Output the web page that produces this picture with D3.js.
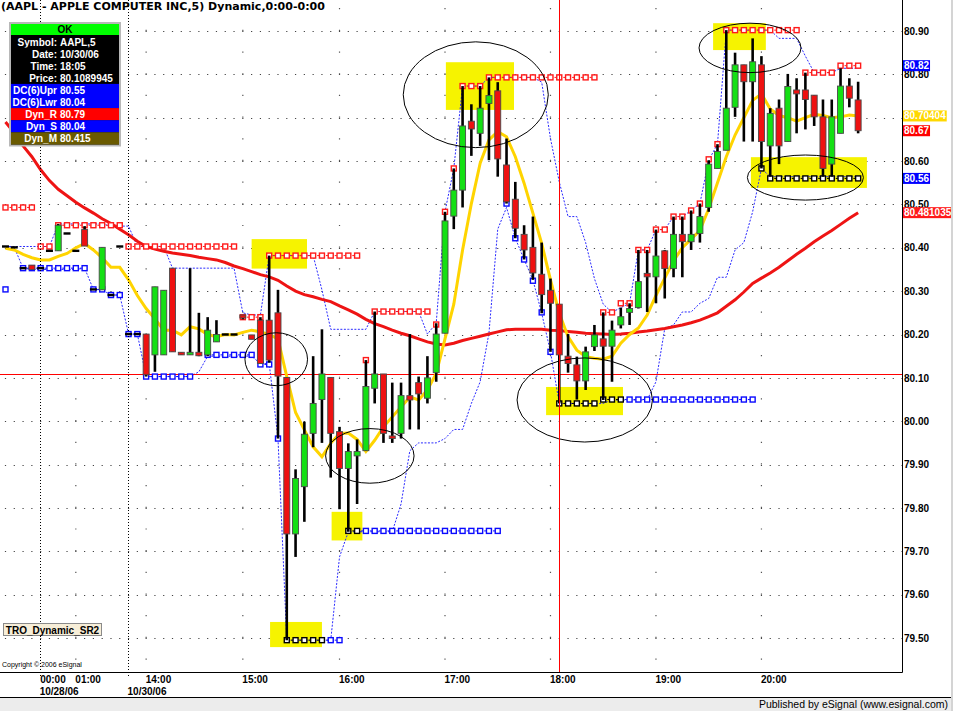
<!DOCTYPE html>
<meta charset="utf-8">
<style>
body { margin: 0; background: #fff; }
svg { display: block; }
text { font-family: "Liberation Sans", Arial, sans-serif; }
.axis text { font: bold 10px "Liberation Sans", Arial, sans-serif; fill: #000; }
</style>
<svg width="953" height="711"></svg>
<script src="https://d3js.org/d3.v7.min.js"></script>
<script>

// 5-minute bars, 10/28 evening + 10/30 session
var opens = [80.403,80.401,80.353,80.360,80.353,80.393,80.393,80.433,80.393,80.442,
  80.304,80.303,80.291,80.403,80.201,80.201,80.201,80.153,80.153,80.353,
  80.159,80.153,80.159,80.153,80.183,80.200,80.200,80.245,80.199,80.233,
  80.233,80.250,80.101,79.740,79.849,79.972,80.050,80.101,79.976,79.891,
  79.920,79.932,80.076,80.109,79.966,79.972,80.059,80.089,80.053,80.112,
  80.203,80.473,80.533,80.692,80.664,80.733,80.762,80.591,80.512,80.431,
  80.401,80.339,80.302,80.270,80.150,80.130,80.093,80.172,80.190,80.173,
  80.222,80.251,80.262,80.341,80.333,80.393,80.352,80.431,80.414,80.433,
  80.493,80.583,80.625,80.724,80.822,80.783,80.822,80.635,80.722,80.645,
  80.764,80.764,80.752,80.702,80.593,80.664,80.773,80.741];
var highs = [80.403,80.401,80.353,80.360,80.353,80.393,80.455,80.433,80.393,80.450,
  80.304,80.401,80.291,80.403,80.201,80.201,80.201,80.310,80.302,80.353,
  80.159,80.353,80.250,80.240,80.233,80.200,80.200,80.245,80.199,80.240,
  80.382,80.303,80.101,79.889,79.999,80.150,80.212,80.101,79.987,79.949,
  79.958,80.141,80.253,80.109,80.089,80.089,80.201,80.103,80.150,80.226,
  80.483,80.583,80.773,80.731,80.773,80.793,80.782,80.652,80.552,80.452,
  80.472,80.412,80.329,80.270,80.201,80.149,80.172,80.222,80.251,80.232,
  80.262,80.272,80.395,80.395,80.442,80.395,80.472,80.472,80.486,80.502,
  80.602,80.639,80.902,80.850,80.822,80.883,80.842,80.722,80.742,80.801,
  80.791,80.804,80.752,80.742,80.742,80.814,80.791,80.783];
var lows = [80.403,80.401,80.353,80.350,80.353,80.393,80.393,80.433,80.393,80.404,
  80.304,80.303,80.291,80.403,80.201,80.201,80.103,80.114,80.153,80.160,
  80.153,80.153,80.150,80.150,80.183,80.200,80.200,80.235,80.189,80.133,
  80.135,79.960,79.495,79.687,79.768,79.940,79.950,79.870,79.797,79.745,
  79.809,79.932,80.041,79.950,79.950,79.960,79.981,79.981,80.041,80.091,
  80.203,80.443,80.493,80.612,80.635,80.602,80.564,80.502,80.422,80.373,
  80.326,80.249,80.160,80.041,80.112,80.050,80.072,80.162,80.049,80.091,
  80.214,80.222,80.260,80.252,80.272,80.283,80.332,80.332,80.395,80.412,
  80.483,80.583,80.625,80.702,80.645,80.645,80.583,80.564,80.593,80.645,
  80.664,80.673,80.681,80.564,80.564,80.664,80.724,80.664];
var closes = [80.403,80.401,80.353,80.350,80.353,80.393,80.452,80.433,80.393,80.404,
  80.304,80.401,80.291,80.403,80.201,80.201,80.107,80.310,80.302,80.160,
  80.153,80.159,80.151,80.210,80.200,80.200,80.200,80.238,80.189,80.133,
  80.141,80.104,79.740,79.868,79.970,80.041,80.109,79.972,79.891,79.930,
  79.930,80.080,80.109,79.972,79.960,80.059,80.049,80.063,80.100,80.201,
  80.462,80.533,80.681,80.674,80.722,80.751,80.605,80.506,80.445,80.395,
  80.342,80.292,80.272,80.153,80.133,80.093,80.160,80.199,80.173,80.210,
  80.241,80.260,80.322,80.333,80.381,80.352,80.431,80.414,80.431,80.472,
  80.593,80.622,80.722,80.822,80.783,80.829,80.645,80.710,80.635,80.772,
  80.755,80.742,80.702,80.583,80.702,80.773,80.745,80.67];

// yellow fast average
var fastAvg = [80.399,80.395,80.385,80.377,80.372,80.372,80.380,80.387,80.400,80.410,
  80.395,80.377,80.355,80.355,80.326,80.290,80.260,80.236,80.210,80.210,
  80.199,80.218,80.213,80.200,80.195,80.200,80.199,80.205,80.210,80.206,
  80.200,80.190,80.103,80.020,79.980,79.941,79.918,79.949,79.972,79.973,
  79.958,79.930,79.956,79.987,80.010,80.033,80.056,80.049,80.072,80.110,
  80.190,80.270,80.395,80.502,80.595,80.649,80.668,80.656,80.610,80.549,
  80.480,80.410,80.326,80.249,80.195,80.164,80.149,80.145,80.143,80.150,
  80.180,80.200,80.215,80.245,80.290,80.330,80.370,80.400,80.420,80.440,
  80.490,80.550,80.610,80.660,80.700,80.740,80.755,80.720,80.705,80.700,
  80.692,80.700,80.708,80.705,80.700,80.702,80.706,80.70404];
// red slow average
var slowAvg = [80.690,80.665,80.635,80.610,80.580,80.555,80.535,80.520,80.505,80.492,
  80.480,80.467,80.456,80.443,80.430,80.415,80.403,80.397,80.392,80.388,
  80.385,80.382,80.378,80.375,80.372,80.366,80.358,80.352,80.345,80.338,
  80.333,80.325,80.312,80.300,80.292,80.287,80.281,80.276,80.266,80.257,
  80.247,80.235,80.225,80.218,80.210,80.203,80.197,80.190,80.183,80.178,
  80.176,80.180,80.186,80.191,80.196,80.201,80.206,80.211,80.212,80.212,
  80.212,80.212,80.210,80.209,80.207,80.205,80.203,80.202,80.201,80.200,
  80.201,80.203,80.206,80.208,80.211,80.214,80.218,80.222,80.227,80.233,
  80.241,80.250,80.265,80.280,80.298,80.318,80.330,80.342,80.355,80.370,
  80.385,80.399,80.414,80.427,80.440,80.454,80.468,80.481035];

// dynamic resistance / support levels
var dynR = [80.493,80.493,80.493,80.493,80.403,80.403,80.452,80.452,80.452,80.452,
  80.452,80.452,80.452,80.452,80.403,80.403,80.403,80.403,80.403,80.403,
  80.403,80.403,80.403,80.403,80.403,80.403,80.403,80.240,80.240,80.240,
  80.382,80.382,80.382,80.382,80.382,80.382,80.382,80.382,80.382,80.382,
  80.382,80.141,80.253,80.253,80.253,80.253,80.253,80.253,80.253,80.223,
  80.483,80.583,80.773,80.773,80.773,80.793,80.793,80.793,80.793,80.793,
  80.793,80.793,80.793,80.793,80.793,80.793,80.793,80.793,80.251,80.251,
  80.272,80.272,80.395,80.395,80.442,80.442,80.472,80.472,80.486,80.502,
  80.604,80.639,80.902,80.902,80.902,80.902,80.902,80.902,80.902,80.902,
  80.902,80.804,80.804,80.804,80.804,80.82,80.82,80.82];
var dynS = [80.304,null,80.353,80.353,80.353,80.353,80.353,80.353,80.353,80.353,
  80.304,80.304,80.291,80.291,80.201,80.201,80.103,80.103,80.103,80.103,
  80.103,80.103,null,80.153,80.153,80.153,80.153,80.153,80.153,80.131,
  80.131,79.960,79.495,79.495,79.495,79.495,79.495,79.495,79.495,79.747,
  79.747,79.747,79.747,79.747,79.747,79.747,79.747,79.747,79.747,79.747,
  79.747,79.747,79.747,79.747,79.747,79.747,79.747,80.502,80.422,80.373,
  80.324,80.251,80.160,80.041,80.041,80.041,80.041,80.041,80.050,80.050,
  80.050,80.050,80.050,80.050,80.050,80.050,80.050,80.050,80.050,80.050,
  80.050,80.050,80.050,80.050,80.050,80.050,80.583,80.56,80.56,80.56,
  80.56,80.56,80.56,80.56,80.56,80.56,80.56,80.56];

var priceTicks = [79.5,79.6,79.7,79.8,79.9,80.0,80.1,80.2,80.3,80.4,80.5,80.6,80.7,80.8,80.9];
var timeTickBars = [4, 8, 16, 27, 38, 50, 62, 74, 86];
var timeTickLabels = ["00:00","01:00","14:00","15:00","16:00","17:00","18:00","19:00","20:00"];
var dateBars = [4, 14];
var dateLabels = ["10/28/06", "10/30/06"];

var cursorBar = 63, cursorPrice = 80.1089945;
var infoLabels = ["Symbol:", "Date:", "Time:", "Price:", "DC(6)Upr", "DC(6)Lwr", "Dyn_R", "Dyn_S", "Dyn_M"];
var infoValues = ["AAPL,5", "10/30/06", "18:05", "80.1089945", "80.55", "80.04", "80.79", "80.04", "80.415"];

// marked zones: bar from, bar to, price top, price bottom
var zoneFrom = [28.0, 30.1, 37.1, 50.1, 61.5, 80.5, 84.8];
var zoneTo = [34.3, 36.0, 40.6, 57.85, 70.25, 86.5, 98.0];
var zoneTop = [80.420, 79.537, 79.791, 80.828, 80.079, 80.918, 80.609];
var zoneBottom = [80.352, 79.479, 79.725, 80.718, 80.014, 80.856, 80.538];

// circled spots: centre bar, centre price, radius in bars, radius in price
var ringBar = [30.8, 41.45, 53.5, 65.9, 84.7, 91.0];
var ringPrice = [80.143, 79.920, 80.753, 80.049, 80.861, 80.562];
var ringBars = [3.56, 5.03, 8.25, 7.7, 5.8, 6.6];
var ringSpan = [0.061, 0.063, 0.122, 0.097, 0.057, 0.052];

var svg = d3.select("svg"),
    width = +svg.attr("width"),
    height = +svg.attr("height");

var plotRight = 902, plotBottom = 672;

var x = d3.scaleLinear().domain([0, 97]).range([5.5, 5.5 + 97 * 8.79]),
    y = d3.scaleLinear().domain([79.5, 80.9]).range([638, 31]);

var bars = opens.map(function(o, i) {
  return {i: i, o: o, h: highs[i], l: lows[i], c: closes[i]};
});

// Donchian channel, 6 bars
var dcUpr = highs.map(function(h, i) { return d3.max(highs.slice(Math.max(0, i - 5), i + 1)); });
var dcLwr = lows.map(function(l, i) { return d3.min(lows.slice(Math.max(0, i - 5), i + 1)); });

svg.append("defs").append("clipPath").attr("id", "plot")
  .append("rect").attr("x", 0).attr("y", 0).attr("width", plotRight).attr("height", plotBottom);

var plot = svg.append("g").attr("clip-path", "url(#plot)");

// dotted grid
plot.append("g").selectAll("line")
  .data(priceTicks)
  .enter().append("line")
    .attr("x1", x(0) - 0.6).attr("x2", plotRight)
    .attr("y1", function(d) { return Math.round(y(d)) + 0.5; })
    .attr("y2", function(d) { return Math.round(y(d)) + 0.5; })
    .attr("stroke", "#444").attr("stroke-width", 1.2)
    .attr("stroke-dasharray", "1.2,7.59");

plot.append("g").selectAll("line")
  .data(timeTickBars.filter(function(b) { return dateBars.indexOf(b) < 0; }))
  .enter().append("line")
    .attr("x1", function(d) { return x(d); }).attr("x2", function(d) { return x(d); })
    .attr("y1", y(79.45)).attr("y2", 0)
    .attr("stroke", "#555").attr("stroke-width", 1.2)
    .attr("stroke-dasharray", "1.2," + (y(80.0) - y(80.05) - 1.2));

svg.append("g").selectAll("line")
  .data(dateBars)
  .enter().append("line")
    .attr("x1", function(d) { return Math.round(x(d)) - 0.5; })
    .attr("x2", function(d) { return Math.round(x(d)) - 0.5; })
    .attr("y1", 0).attr("y2", 676)
    .attr("stroke", "#000").attr("stroke-dasharray", "1,2");

// yellow marked zones
plot.append("g").selectAll("rect")
  .data(zoneFrom)
  .enter().append("rect")
    .attr("x", function(d) { return x(d); })
    .attr("y", function(d, i) { return y(zoneTop[i]); })
    .attr("width", function(d, i) { return x(zoneTo[i]) - x(d); })
    .attr("height", function(d, i) { return y(zoneBottom[i]) - y(zoneTop[i]); })
    .attr("fill", "#f6f300");

function inZone(i, v) {
  for (var k = 0; k < zoneFrom.length; k++) {
    if (x(i) >= x(zoneFrom[k]) && x(i) <= x(zoneTo[k]) && v <= zoneTop[k] && v >= zoneBottom[k]) return true;
  }
  return false;
}

var line = d3.line()
    .x(function(d, i) { return x(i); })
    .y(function(d) { return y(d); });

// channel
[dcUpr, dcLwr].forEach(function(s) {
  plot.append("path").datum(s)
    .attr("fill", "none").attr("stroke", "#2a2aff").attr("stroke-width", 1)
    .attr("stroke-dasharray", "2,1.5")
    .attr("d", line);
});

// horizontal cursor
plot.append("line")
  .attr("x1", 0).attr("x2", plotRight)
  .attr("y1", Math.round(y(cursorPrice)) + 0.5).attr("y2", Math.round(y(cursorPrice)) + 0.5)
  .attr("stroke", "#ff0000").attr("stroke-width", 1);

plot.append("path").datum(slowAvg)
  .attr("fill", "none").attr("stroke", "#ee1414").attr("stroke-width", 3)
  .attr("d", line);

plot.append("path").datum(fastAvg)
  .attr("fill", "none").attr("stroke", "#ffd400").attr("stroke-width", 3)
  .attr("d", line);

// level squares
function levels(values, color, useZones) {
  var g = plot.append("g");
  var segs = [];
  values.forEach(function(v, i) {
    if (i > 0 && v != null && values[i - 1] === v) segs.push(i);
  });
  g.selectAll("line")
    .data(segs)
    .enter().append("line")
      .attr("x1", function(i) { return x(i - 1); }).attr("x2", function(i) { return x(i); })
      .attr("y1", function(i) { return y(values[i]); }).attr("y2", function(i) { return y(values[i]); })
      .attr("stroke", function(i) { return useZones && inZone(i, values[i]) ? "#000" : color; })
      .attr("stroke-width", 1).attr("stroke-dasharray", "2,2");
  g.selectAll("rect")
    .data(values.map(function(v, i) { return {i: i, v: v}; }).filter(function(d) { return d.v != null; }))
    .enter().append("rect")
      .attr("x", function(d) { return x(d.i) - 2.5; })
      .attr("y", function(d) { return y(d.v) - 2.5; })
      .attr("width", 5).attr("height", 5)
      .attr("fill", "#fff")
      .attr("stroke", function(d) { return useZones && inZone(d.i, d.v) ? "#000" : color; })
      .attr("stroke-width", 1.4);
}
levels(dynR, "#ff1a1a", false);
levels(dynS, "#0a0aff", true);

// candles
var candle = plot.append("g").selectAll("g")
  .data(bars)
  .enter().append("g");

candle.filter(function(d) { return d.h > d.l; }).append("line")
  .attr("x1", function(d) { return x(d.i); }).attr("x2", function(d) { return x(d.i); })
  .attr("y1", function(d) { return y(d.h); }).attr("y2", function(d) { return y(d.l); })
  .attr("stroke", "#000").attr("stroke-width", 2.6);

candle.append("rect")
  .attr("x", function(d) { return x(d.i) - (d.o === d.c ? 3.5 : 3); })
  .attr("y", function(d) { return d.o === d.c ? y(d.c) - 1.2 : y(Math.max(d.o, d.c)); })
  .attr("width", function(d) { return d.o === d.c ? 7 : 6; })
  .attr("height", function(d) { return d.o === d.c ? 2.4 : Math.max(2, Math.abs(y(d.o) - y(d.c))); })
  .attr("fill", function(d) { return d.o === d.c ? "#000" : (d.c > d.o ? "#14e014" : "#ee1111"); })
  .attr("stroke", function(d) { return d.o === d.c ? "none" : "#4a4a4a"; })
  .attr("stroke-width", 0.9);

// rings
plot.append("g").selectAll("ellipse")
  .data(ringBar)
  .enter().append("ellipse")
    .attr("cx", function(d) { return x(d); })
    .attr("cy", function(d, i) { return y(ringPrice[i]); })
    .attr("rx", function(d, i) { return x(d + ringBars[i]) - x(d); })
    .attr("ry", function(d, i) { return y(ringPrice[i] - ringSpan[i]) - y(ringPrice[i]); })
    .attr("fill", "none").attr("stroke", "#000").attr("stroke-width", 1);

// vertical cursor
svg.append("line")
  .attr("x1", Math.round(x(cursorBar)) + 0.5).attr("x2", Math.round(x(cursorBar)) + 0.5)
  .attr("y1", 0).attr("y2", plotBottom)
  .attr("stroke", "#ff0000").attr("stroke-width", 1);

// frame
svg.append("line").attr("x1", plotRight + 0.5).attr("x2", plotRight + 0.5).attr("y1", 0).attr("y2", plotBottom + 0.5)
  .attr("stroke", "#000");
svg.append("line").attr("x1", 0).attr("x2", plotRight + 0.5).attr("y1", plotBottom + 0.5).attr("y2", plotBottom + 0.5)
  .attr("stroke", "#000");

// last value markers on the price axis
var marks = [
  {v: dynR[dynR.length - 1], t: d3.format(".2f")(dynR[dynR.length - 1]), bg: "#0000ff"},
  {v: fastAvg[fastAvg.length - 1], t: String(fastAvg[fastAvg.length - 1]), bg: "#ffd800"},
  {v: closes[closes.length - 1], t: d3.format(".2f")(closes[closes.length - 1]), bg: "#ff0000"},
  {v: dynS[dynS.length - 1], t: d3.format(".2f")(dynS[dynS.length - 1]), bg: "#0000ff"},
  {v: slowAvg[slowAvg.length - 1], t: String(slowAvg[slowAvg.length - 1]), bg: "#ff1a1a"}
];

// price axis (a label fully under a marker is not drawn)
var yAxis = svg.append("g").attr("class", "axis")
  .attr("transform", "translate(" + plotRight + ",0)")
  .call(d3.axisRight(y)
    .tickValues(priceTicks.filter(function(p) {
      return !marks.some(function(m) { return Math.abs(y(m.v) - y(p)) < 3; });
    }))
    .tickFormat(d3.format(".2f")).tickSize(0).tickPadding(2));
yAxis.select(".domain").remove();

// time axis
var xAxis = svg.append("g").attr("class", "axis")
  .attr("transform", "translate(0," + plotBottom + ")")
  .call(d3.axisBottom(x).tickValues(timeTickBars)
    .tickFormat(function(d, i) { return timeTickLabels[i]; }).tickSize(0));
xAxis.select(".domain").remove();
xAxis.selectAll("text").attr("text-anchor", "start").attr("x", -1).attr("y", 11).attr("dy", 0);

svg.append("g").attr("class", "axis").selectAll("text")
  .data(dateBars)
  .enter().append("text")
    .attr("x", function(d) { return x(d) - 1; })
    .attr("y", 695)
    .text(function(d, i) { return dateLabels[i]; });

var mark = svg.append("g").selectAll("g")
  .data(marks)
  .enter().append("g")
    .attr("transform", function(d) { return "translate(" + (plotRight + 1) + "," + y(d.v) + ")"; });
mark.append("rect").attr("class", "bg");
mark.append("text")
  .attr("x", 1).attr("dy", "0.35em")
  .style("font", "bold 10px 'Liberation Sans', Arial, sans-serif")
  .attr("fill", "#fff")
  .text(function(d) { return d.t; });
mark.select("rect")
  .attr("x", 0).attr("y", -5.5).attr("height", 11)
  .attr("width", function() { return this.parentNode.querySelector("text").getComputedTextLength() + 2; })
  .attr("fill", function(d) { return d.bg; });

// title
svg.append("text")
  .attr("x", 1).attr("y", 10)
  .style("font", "bold 11px 'DejaVu Sans', sans-serif")
  .text("(AAPL - APPLE COMPUTER INC,5) Dynamic,0:00-0:00");

// cursor info window
var rowColors = ["#000", "#000", "#000", "#000", "#0000ff", "#0000ff", "#ff0000", "#0000ff", "#6a5a00"];
var info = svg.append("g");
info.append("rect").attr("x", 10).attr("y", 23).attr("width", 110).attr("height", 122.5)
  .attr("fill", "#000").attr("stroke", "#b8b8b8").attr("stroke-width", 2);
info.append("rect").attr("x", 11).attr("y", 24).attr("width", 108).attr("height", 11).attr("fill", "#00ff00");
info.append("text").attr("x", 65).attr("y", 33).attr("text-anchor", "middle")
  .style("font", "bold 10px 'Liberation Sans', Arial, sans-serif").text("OK");
var row = info.selectAll("g.row")
  .data(infoLabels)
  .enter().append("g").attr("class", "row")
    .attr("transform", function(d, i) { return "translate(11," + (35.5 + i * 12.1) + ")"; });
row.append("rect").attr("width", 108).attr("height", 12.2)
  .attr("fill", function(d, i) { return rowColors[i]; });
row.append("text").attr("x", 46).attr("y", 10).attr("text-anchor", "end")
  .style("font", "bold 10px 'Liberation Sans', Arial, sans-serif").attr("fill", "#fff")
  .text(function(d) { return d; });
row.append("text").attr("x", 49).attr("y", 10)
  .style("font", "bold 10px 'Liberation Sans', Arial, sans-serif").attr("fill", "#fff")
  .text(function(d, i) { return infoValues[i]; });

// study tag
svg.append("rect").attr("x", 3.5).attr("y", 623.5).attr("width", 98).attr("height", 12)
  .attr("fill", "#f7eed8").attr("stroke", "#8a8a8a");
svg.append("text").attr("x", 52.5).attr("y", 633.5).attr("text-anchor", "middle")
  .style("font", "bold 10px 'Liberation Sans', Arial, sans-serif")
  .text("TRO_Dynamic_SR2");

svg.append("text").attr("x", 2).attr("y", 667)
  .style("font", "7px 'Liberation Sans', Arial, sans-serif")
  .text("Copyright \u00a9 2006 eSignal");

// footer
svg.append("rect").attr("x", 0).attr("y", 697).attr("width", width).attr("height", height - 697).attr("fill", "#ececec");
svg.append("line").attr("x1", 0).attr("x2", width).attr("y1", 697.5).attr("y2", 697.5).attr("stroke", "#000");
svg.append("text").attr("x", 948).attr("y", 708).attr("text-anchor", "end")
  .style("font", "10.5px 'Liberation Sans', Arial, sans-serif")
  .text("Published by eSignal (www.esignal.com)");
svg.append("rect").attr("x", width - 2).attr("y", 0).attr("width", 2).attr("height", height).attr("fill", "#d4d4d4");

</script>
